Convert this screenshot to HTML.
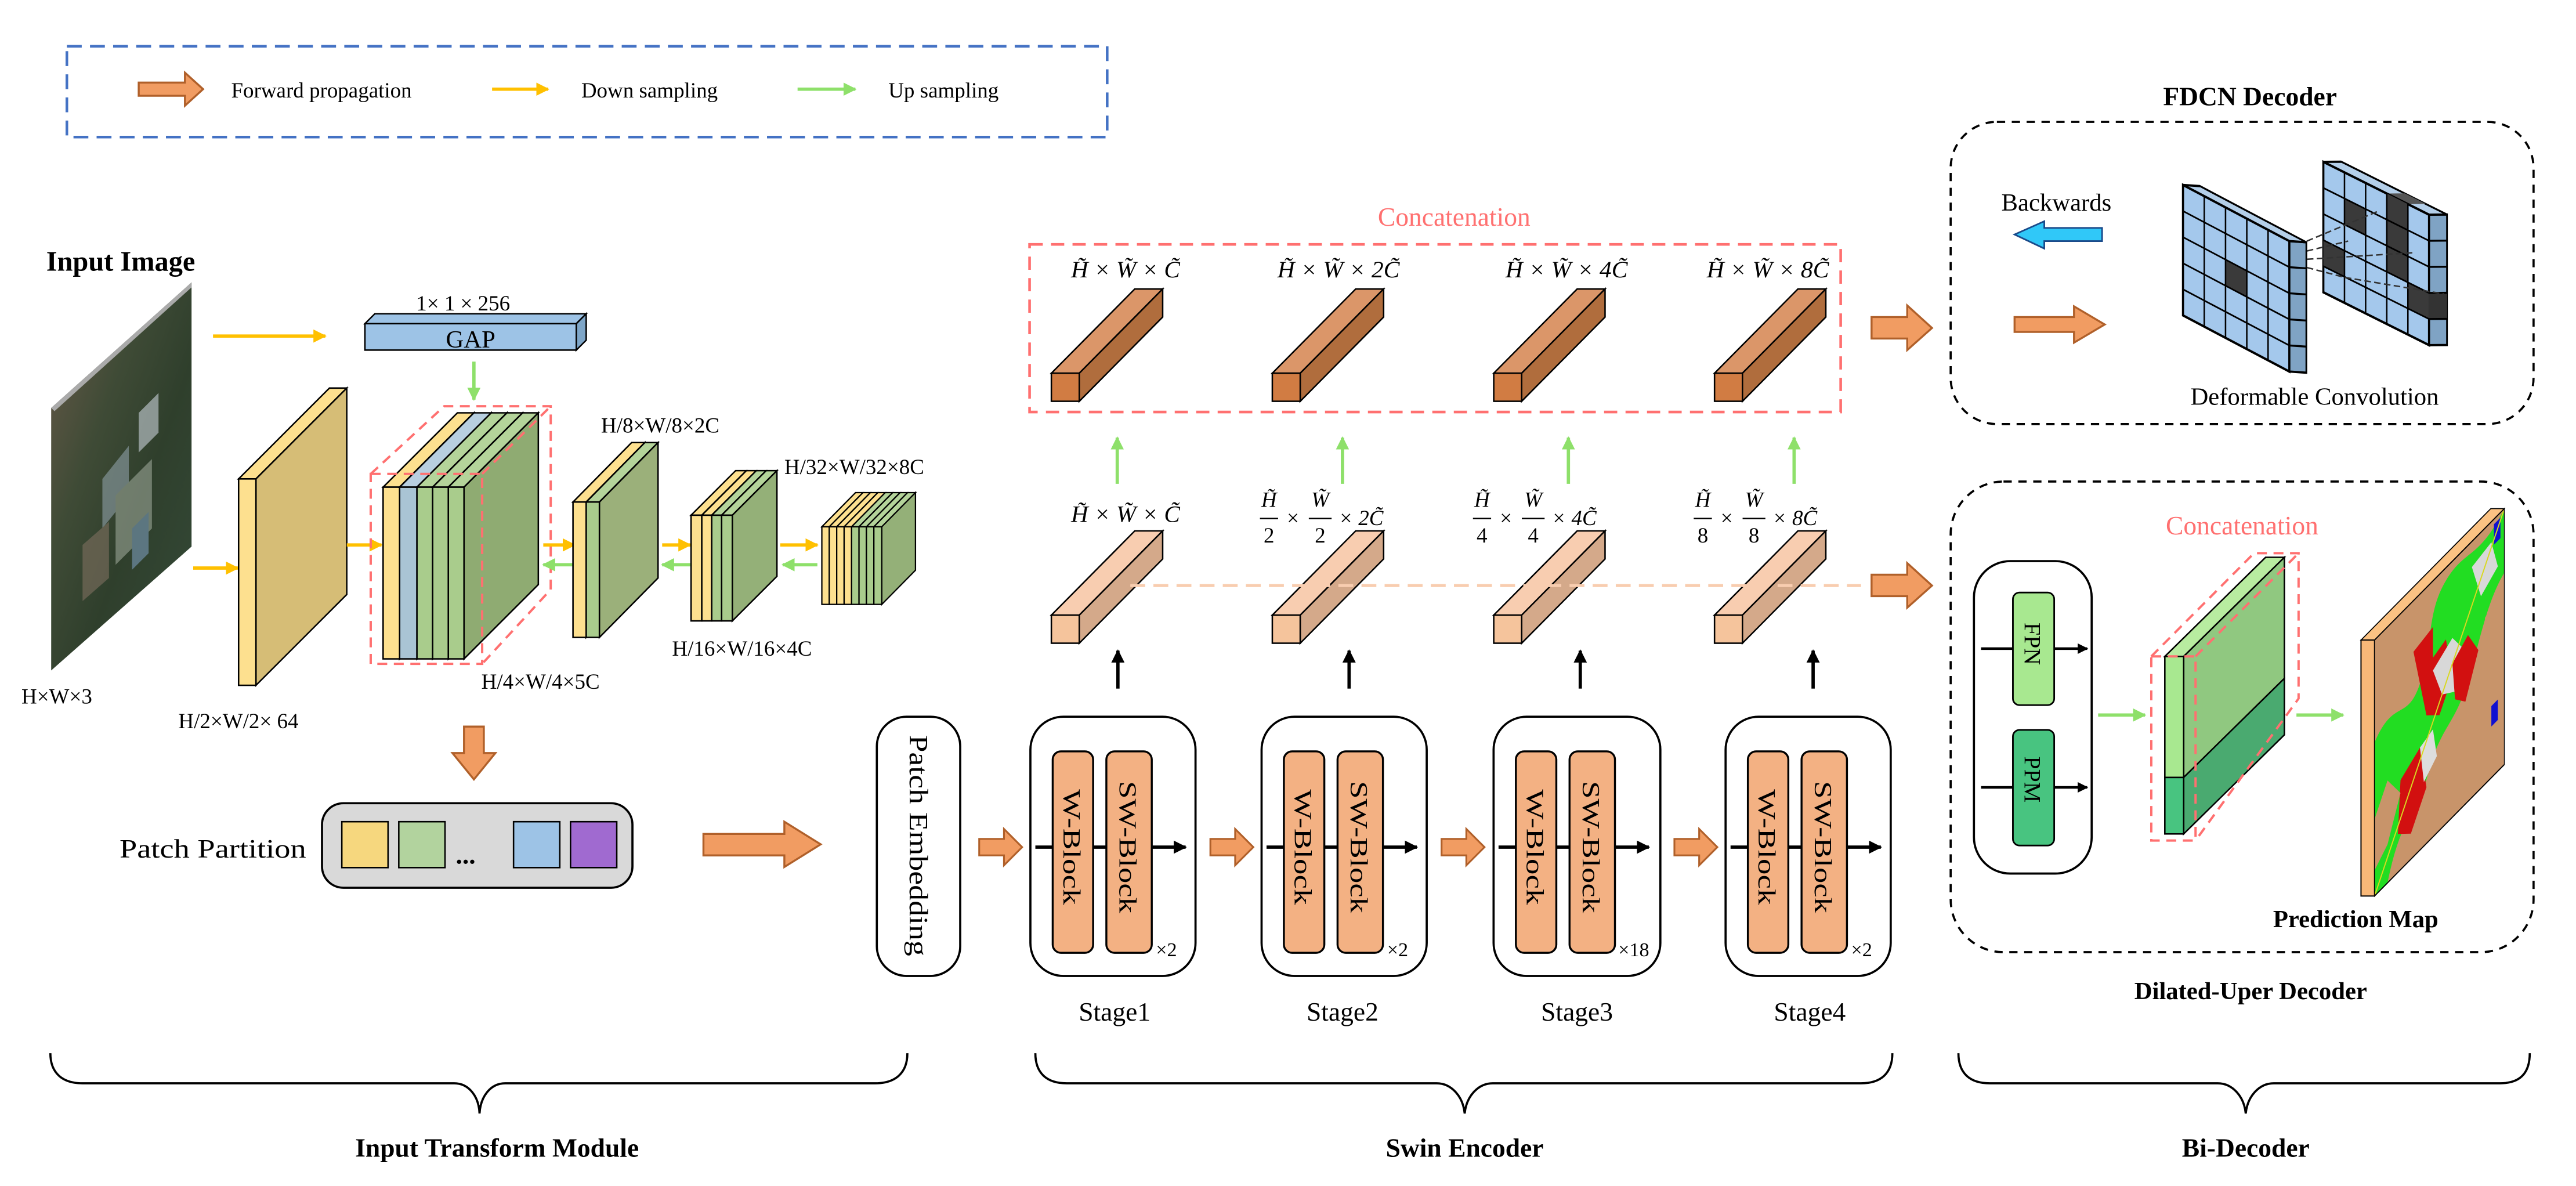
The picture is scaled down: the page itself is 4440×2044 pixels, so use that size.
<!DOCTYPE html>
<html><head><meta charset="utf-8"><style>html,body{margin:0;padding:0;background:#fff}svg{display:block}</style></head><body>
<svg xmlns="http://www.w3.org/2000/svg" width="4440" height="2044" viewBox="0 0 1560 718.2" preserveAspectRatio="none" font-family="'Liberation Serif', serif">
<defs>
<linearGradient id="sat" x1="0" y1="0" x2="1" y2="1">
<stop offset="0" stop-color="#6b5a4a"/><stop offset="0.35" stop-color="#3f4b36"/><stop offset="0.6" stop-color="#2f3f2c"/><stop offset="1" stop-color="#344a38"/>
</linearGradient>
<marker id="ay" viewBox="0 0 10 10" refX="9" refY="5" markerWidth="4" markerHeight="4" orient="auto"><path d="M0,0L10,5L0,10z" fill="#ffc000"/></marker>
<marker id="ag" viewBox="0 0 10 10" refX="9" refY="5" markerWidth="4" markerHeight="4" orient="auto"><path d="M0,0L10,5L0,10z" fill="#8ee06a"/></marker>
<marker id="ab" viewBox="0 0 10 10" refX="9" refY="5" markerWidth="4" markerHeight="4" orient="auto"><path d="M0,0L10,5L0,10z" fill="#000"/></marker>
</defs>

<!-- Legend -->
<rect x="40.5" y="28" width="630" height="55" fill="none" stroke="#4472c4" stroke-width="1.6" stroke-dasharray="9,5"/>
<polygon points="84,50 112,50 112,44 123,54 112,64 112,58 84,58" fill="#f19c62" stroke="#b0602a" stroke-width="1.2"/>
<text x="140" y="59" font-size="13">Forward propagation</text>
<line x1="298" y1="54" x2="332" y2="54" stroke="#ffc000" stroke-width="2" marker-end="url(#ay)"/>
<text x="352" y="59" font-size="13">Down sampling</text>
<line x1="483" y1="54" x2="518" y2="54" stroke="#8ee06a" stroke-width="2" marker-end="url(#ag)"/>
<text x="538" y="59" font-size="13">Up sampling</text>

<!-- Input image -->
<text x="28" y="164" font-size="17" font-weight="bold">Input Image</text>
<polygon points="31,247 116,171 116,331 31,406" fill="url(#sat)"/>
<polygon points="31,247 116,171 116,174 33,249" fill="#aaa"/>
<g opacity="0.6">
<polygon points="62,290 78,270 78,300 62,320" fill="#8fa0a8"/>
<polygon points="70,300 92,278 92,320 70,342" fill="#9aa596"/>
<polygon points="84,250 96,238 96,262 84,274" fill="#c8d0d8"/>
<polygon points="50,330 66,316 66,350 50,364" fill="#7f7060"/>
<polygon points="80,320 90,310 90,335 80,345" fill="#7a9ab8"/>
</g>
<text x="13" y="426" font-size="13">H×W×3</text>

<line x1="129" y1="203.5" x2="197" y2="203.5" stroke="#ffc000" stroke-width="2" marker-end="url(#ay)"/>
<line x1="117" y1="344" x2="144" y2="344" stroke="#ffc000" stroke-width="2" marker-end="url(#ay)"/>

<polygon points="144.5,290 155,290 210,235 199.5,235" fill="#fde08f" stroke="#000" stroke-width="0.9"/>
<polygon points="155,290 210,235 210,360 155,415" fill="#d6bd76" stroke="#000" stroke-width="0.9"/>
<rect x="144.5" y="290" width="10.5" height="125" fill="#fde08f" stroke="#000" stroke-width="0.9"/>
<text x="108" y="441" font-size="13">H/2×W/2× 64</text>

<text x="252" y="188" font-size="13">1× 1 × 256</text>
<polygon points="221,196 349,196 355,190 227,190" fill="#9dc3e6" stroke="#000" stroke-width="0.9"/>
<polygon points="349,196 355,190 355,206 349,212" fill="#7ea6c8" stroke="#000" stroke-width="0.9"/>
<rect x="221" y="196" width="128" height="16" fill="#9dc3e6" stroke="#000" stroke-width="0.9"/>
<text x="285" y="210.5" font-size="15" text-anchor="middle">GAP</text>
<line x1="287" y1="219" x2="287" y2="242" stroke="#8ee06a" stroke-width="2" marker-end="url(#ag)"/>

<line x1="210" y1="330" x2="231" y2="330" stroke="#ffc000" stroke-width="2" marker-end="url(#ay)"/>
<g stroke="#000" stroke-width="0.9">
<polygon points="232,295 242,295 287,250 277,250" fill="#fde08f"/><polygon points="242,295 287,250 287,354 242,399" fill="#d6bd76"/><rect x="232" y="295" width="10" height="104" fill="#fde08f"/>
<polygon points="242,295 252.5,295 297.5,250 287,250" fill="#b8cfe0"/><polygon points="252.5,295 297.5,250 297.5,354 252.5,399" fill="#9fb8c8"/><rect x="242" y="295" width="10.5" height="104" fill="#a9c4d4"/>
<polygon points="252.5,295 262,295 307,250 297.5,250" fill="#b4d49a"/><polygon points="262,295 307,250 307,354 262,399" fill="#9bb880"/><rect x="252.5" y="295" width="9.5" height="104" fill="#a9cc8c"/>
<polygon points="262,295 271.5,295 316.5,250 307,250" fill="#b4d49a"/><polygon points="271.5,295 316.5,250 316.5,354 271.5,399" fill="#96b47c"/><rect x="262" y="295" width="9.5" height="104" fill="#a9cc8c"/>
<polygon points="271.5,295 281,295 326,250 316.5,250" fill="#b4d49a"/><polygon points="281,295 326,250 326,354 281,399" fill="#8fab72"/><rect x="271.5" y="295" width="9.5" height="104" fill="#a9cc8c"/>
</g>
<g fill="none" stroke="#ff7070" stroke-width="1.4" stroke-dasharray="6,4">
<rect x="224.5" y="287" width="67.5" height="115"/>
<polyline points="224.5,287 269,246 333.5,246 333.5,357 292,402"/>
<line x1="292" y1="287" x2="333.5" y2="246"/>
</g>
<text x="291.5" y="417" font-size="13">H/4×W/4×5C</text>

<line x1="329" y1="330" x2="348" y2="330" stroke="#ffc000" stroke-width="2" marker-end="url(#ay)"/>
<line x1="348" y1="342" x2="329" y2="342" stroke="#8ee06a" stroke-width="2" marker-end="url(#ag)"/>

<g stroke="#000" stroke-width="0.9">
<polygon points="347,304 355,304 390.5,268 382.5,268" fill="#fde08f"/><polygon points="355,304 390.5,268 390.5,350 355,386" fill="#d6bd76"/><rect x="347" y="304" width="8" height="82" fill="#fde08f"/>
<polygon points="355,304 363,304 398.5,268 390.5,268" fill="#b4d49a"/><polygon points="363,304 398.5,268 398.5,350 363,386" fill="#9bb07a"/><rect x="355" y="304" width="8" height="82" fill="#a9cc8c"/>
</g>
<text x="364" y="262" font-size="13">H/8×W/8×2C</text>

<line x1="401" y1="330" x2="418" y2="330" stroke="#ffc000" stroke-width="2" marker-end="url(#ay)"/>
<line x1="418" y1="342" x2="401" y2="342" stroke="#8ee06a" stroke-width="2" marker-end="url(#ag)"/>

<g stroke="#000" stroke-width="0.9">
<polygon points="418.5,312 425,312 452,285 445.5,285" fill="#fde08f"/><rect x="418.5" y="312" width="6.5" height="64" fill="#fde08f"/>
<polygon points="425,312 431,312 458,285 452,285" fill="#fde08f"/><rect x="425" y="312" width="6" height="64" fill="#fde08f"/>
<polygon points="431,312 437,312 464,285 458,285" fill="#b4d49a"/><rect x="431" y="312" width="6" height="64" fill="#a9cc8c"/>
<polygon points="437,312 443.5,312 470.5,285 464,285" fill="#b4d49a"/><polygon points="443.5,312 470.5,285 470.5,349 443.5,376" fill="#94b078"/><rect x="437" y="312" width="6.5" height="64" fill="#a9cc8c"/>
</g>
<text x="407" y="397" font-size="13">H/16×W/16×4C</text>

<line x1="472.5" y1="330" x2="495" y2="330" stroke="#ffc000" stroke-width="2" marker-end="url(#ay)"/>
<line x1="495" y1="342" x2="474" y2="342" stroke="#8ee06a" stroke-width="2" marker-end="url(#ag)"/>

<g stroke="#000" stroke-width="0.8">
<polygon points="497.7,319 502.2,319 522.6,298.3 518.1,298.3" fill="#fde08f"/><rect x="497.7" y="319" width="4.5" height="47" fill="#fde08f"/>
<polygon points="502.2,319 506.7,319 527.1,298.3 522.6,298.3" fill="#fde08f"/><rect x="502.2" y="319" width="4.5" height="47" fill="#fde08f"/>
<polygon points="506.7,319 511.2,319 531.6,298.3 527.1,298.3" fill="#fde08f"/><rect x="506.7" y="319" width="4.5" height="47" fill="#fde08f"/>
<polygon points="511.2,319 515.7,319 536.1,298.3 531.6,298.3" fill="#fde08f"/><rect x="511.2" y="319" width="4.5" height="47" fill="#fde08f"/>
<polygon points="515.7,319 520.2,319 540.6,298.3 536.1,298.3" fill="#b4d49a"/><rect x="515.7" y="319" width="4.5" height="47" fill="#a9cc8c"/>
<polygon points="520.2,319 524.7,319 545.1,298.3 540.6,298.3" fill="#b4d49a"/><rect x="520.2" y="319" width="4.5" height="47" fill="#a9cc8c"/>
<polygon points="524.7,319 529.2,319 549.6,298.3 545.1,298.3" fill="#b4d49a"/><rect x="524.7" y="319" width="4.5" height="47" fill="#a9cc8c"/>
<polygon points="529.2,319 534,319 554.4,298.3 549.6,298.3" fill="#b4d49a"/><polygon points="534,319 554.4,298.3 554.4,345.3 534,366" fill="#94b078"/><rect x="529.2" y="319" width="4.8" height="47" fill="#a9cc8c"/>
</g>
<text x="475" y="287" font-size="13">H/32×W/32×8C</text>

<polygon points="281,440 293,440 293,456 300,456 287,472 274,456 281,456" fill="#f19c62" stroke="#b0602a" stroke-width="1.2"/>

<text x="72.4" y="519.4" font-size="16" textLength="113" lengthAdjust="spacingAndGlyphs">Patch Partition</text>
<rect x="195" y="486.4" width="188" height="51.2" rx="13" fill="#d9d9d9" stroke="#000" stroke-width="1.3"/>
<rect x="207" y="497.6" width="28" height="27.8" fill="#f6d77e" stroke="#000" stroke-width="0.9"/>
<rect x="241.5" y="497.6" width="28" height="27.8" fill="#b2d39e" stroke="#000" stroke-width="0.9"/>
<text x="276" y="523" font-size="16" font-weight="bold">...</text>
<rect x="311" y="497.6" width="28" height="27.8" fill="#9dc3e6" stroke="#000" stroke-width="0.9"/>
<rect x="345.5" y="497.6" width="28" height="27.8" fill="#a06ad0" stroke="#000" stroke-width="0.9"/>
<polygon points="426,505 475,505 475,497.6 497,511.3 475,525 475,518 426,518" fill="#f19c62" stroke="#b0602a" stroke-width="1.2"/>

<rect x="531" y="434" width="50.5" height="157" rx="18" fill="#fff" stroke="#000" stroke-width="1.3"/>
<text transform="translate(551,445) rotate(90)" font-size="16" textLength="134" lengthAdjust="spacingAndGlyphs">Patch Embedding</text>

<!-- Stages -->
<g>
<polygon points="593,508 608,508 608,502 619,513 608,524 608,518 593,518" fill="#f19c62" stroke="#b0602a" stroke-width="1.1"/>
<rect x="624" y="434" width="100" height="157" rx="20" fill="#fff" stroke="#000" stroke-width="1.3"/>
<line x1="627" y1="513" x2="718" y2="513" stroke="#000" stroke-width="2" marker-end="url(#ab)"/>
<rect x="637.5" y="455" width="24.5" height="122" rx="5" fill="#f3b183" stroke="#000" stroke-width="1.2"/>
<rect x="670" y="455" width="27.5" height="122" rx="5" fill="#f3b183" stroke="#000" stroke-width="1.2"/>
<text transform="translate(644,478) rotate(90)" font-size="15" textLength="70" lengthAdjust="spacingAndGlyphs">W-Block</text>
<text transform="translate(678,473) rotate(90)" font-size="15" textLength="80" lengthAdjust="spacingAndGlyphs">SW-Block</text>
<text x="700" y="579" font-size="12">×2</text>
<text x="675" y="618" font-size="16" text-anchor="middle">Stage1</text>
<line x1="677" y1="417" x2="677" y2="394" stroke="#000" stroke-width="2" marker-end="url(#ab)"/>
</g>
<g>
<polygon points="733,508 748,508 748,502 759,513 748,524 748,518 733,518" fill="#f19c62" stroke="#b0602a" stroke-width="1.1"/>
<rect x="764" y="434" width="100" height="157" rx="20" fill="#fff" stroke="#000" stroke-width="1.3"/>
<line x1="767" y1="513" x2="858" y2="513" stroke="#000" stroke-width="2" marker-end="url(#ab)"/>
<rect x="777.5" y="455" width="24.5" height="122" rx="5" fill="#f3b183" stroke="#000" stroke-width="1.2"/>
<rect x="810" y="455" width="27.5" height="122" rx="5" fill="#f3b183" stroke="#000" stroke-width="1.2"/>
<text transform="translate(784,478) rotate(90)" font-size="15" textLength="70" lengthAdjust="spacingAndGlyphs">W-Block</text>
<text transform="translate(818,473) rotate(90)" font-size="15" textLength="80" lengthAdjust="spacingAndGlyphs">SW-Block</text>
<text x="840" y="579" font-size="12">×2</text>
<text x="813" y="618" font-size="16" text-anchor="middle">Stage2</text>
<line x1="817" y1="417" x2="817" y2="394" stroke="#000" stroke-width="2" marker-end="url(#ab)"/>
</g>
<g>
<polygon points="873,508 888,508 888,502 899,513 888,524 888,518 873,518" fill="#f19c62" stroke="#b0602a" stroke-width="1.1"/>
<rect x="904.5" y="434" width="101" height="157" rx="20" fill="#fff" stroke="#000" stroke-width="1.3"/>
<line x1="907.5" y1="513" x2="998.5" y2="513" stroke="#000" stroke-width="2" marker-end="url(#ab)"/>
<rect x="918" y="455" width="24.5" height="122" rx="5" fill="#f3b183" stroke="#000" stroke-width="1.2"/>
<rect x="950.5" y="455" width="27.5" height="122" rx="5" fill="#f3b183" stroke="#000" stroke-width="1.2"/>
<text transform="translate(924.5,478) rotate(90)" font-size="15" textLength="70" lengthAdjust="spacingAndGlyphs">W-Block</text>
<text transform="translate(958.5,473) rotate(90)" font-size="15" textLength="80" lengthAdjust="spacingAndGlyphs">SW-Block</text>
<text x="980" y="579" font-size="12">×18</text>
<text x="955" y="618" font-size="16" text-anchor="middle">Stage3</text>
<line x1="957" y1="417" x2="957" y2="394" stroke="#000" stroke-width="2" marker-end="url(#ab)"/>
</g>
<g>
<polygon points="1014,508 1029,508 1029,502 1040,513 1029,524 1029,518 1014,518" fill="#f19c62" stroke="#b0602a" stroke-width="1.1"/>
<rect x="1045" y="434" width="100" height="157" rx="20" fill="#fff" stroke="#000" stroke-width="1.3"/>
<line x1="1048" y1="513" x2="1139" y2="513" stroke="#000" stroke-width="2" marker-end="url(#ab)"/>
<rect x="1058.5" y="455" width="24.5" height="122" rx="5" fill="#f3b183" stroke="#000" stroke-width="1.2"/>
<rect x="1091" y="455" width="27.5" height="122" rx="5" fill="#f3b183" stroke="#000" stroke-width="1.2"/>
<text transform="translate(1065,478) rotate(90)" font-size="15" textLength="70" lengthAdjust="spacingAndGlyphs">W-Block</text>
<text transform="translate(1099,473) rotate(90)" font-size="15" textLength="80" lengthAdjust="spacingAndGlyphs">SW-Block</text>
<text x="1121" y="579" font-size="12">×2</text>
<text x="1096" y="618" font-size="16" text-anchor="middle">Stage4</text>
<line x1="1098" y1="417" x2="1098" y2="394" stroke="#000" stroke-width="2" marker-end="url(#ab)"/>
</g>

<text x="880.6" y="136.7" font-size="16" fill="#ff7070" text-anchor="middle">Concatenation</text>
<rect x="623.5" y="148" width="491.2" height="101.5" fill="none" stroke="#ff7070" stroke-width="1.6" stroke-dasharray="8,5"/>
<g font-size="14" font-style="italic">
<text x="681.6" y="168" text-anchor="middle" textLength="66" lengthAdjust="spacingAndGlyphs">H̃ × W̃ × C̃</text>
<text x="810.6" y="168" text-anchor="middle" textLength="74" lengthAdjust="spacingAndGlyphs">H̃ × W̃ × 2C̃</text>
<text x="948.7" y="168" text-anchor="middle" textLength="74" lengthAdjust="spacingAndGlyphs">H̃ × W̃ × 4C̃</text>
<text x="1070.6" y="168" text-anchor="middle" textLength="74" lengthAdjust="spacingAndGlyphs">H̃ × W̃ × 8C̃</text>
</g>
<g stroke="#000" stroke-width="0.9">
<polygon points="636.7,226 653.6,226 704.1,175 687.2,175" fill="#db9669"/><polygon points="653.6,226 704.1,175 704.1,192 653.6,243" fill="#b06d3d"/><rect x="636.7" y="226" width="16.9" height="17" fill="#d17c43"/>
<polygon points="770.5,226 787.4,226 837.9,175 821,175" fill="#db9669"/><polygon points="787.4,226 837.9,175 837.9,192 787.4,243" fill="#b06d3d"/><rect x="770.5" y="226" width="16.9" height="17" fill="#d17c43"/>
<polygon points="904.6,226 921.5,226 972,175 955.1,175" fill="#db9669"/><polygon points="921.5,226 972,175 972,192 921.5,243" fill="#b06d3d"/><rect x="904.6" y="226" width="16.9" height="17" fill="#d17c43"/>
<polygon points="1038.3,226 1055.2,226 1105.7,175 1088.8,175" fill="#db9669"/><polygon points="1055.2,226 1105.7,175 1105.7,192 1055.2,243" fill="#b06d3d"/><rect x="1038.3" y="226" width="16.9" height="17" fill="#d17c43"/>
</g>
<g stroke="#8ee06a" stroke-width="2">
<line x1="676.6" y1="293" x2="676.6" y2="265" marker-end="url(#ag)"/>
<line x1="813" y1="293" x2="813" y2="265" marker-end="url(#ag)"/>
<line x1="949.8" y1="293" x2="949.8" y2="265" marker-end="url(#ag)"/>
<line x1="1086.5" y1="293" x2="1086.5" y2="265" marker-end="url(#ag)"/>
</g>

<g font-size="14" font-style="italic">
<text x="681.6" y="316" text-anchor="middle" textLength="66" lengthAdjust="spacingAndGlyphs">H̃ × W̃ × C̃</text>
</g>
<g font-size="13" font-style="italic" transform="translate(763,0)">
<text x="5.5" y="307" text-anchor="middle">H̃</text><line x1="0" y1="314" x2="11" y2="314" stroke="#000" stroke-width="0.9"/><text x="5.5" y="328.6" text-anchor="middle" font-style="normal">2</text>
<text x="20" y="318" text-anchor="middle" font-style="normal">×</text>
<text x="36.5" y="307" text-anchor="middle">W̃</text><line x1="29.6" y1="314" x2="43.4" y2="314" stroke="#000" stroke-width="0.9"/><text x="36.5" y="328.6" text-anchor="middle" font-style="normal">2</text>
<text x="47.6" y="318">× 2C̃</text>
</g>
<g font-size="13" font-style="italic" transform="translate(892,0)">
<text x="5.5" y="307" text-anchor="middle">H̃</text><line x1="0" y1="314" x2="11" y2="314" stroke="#000" stroke-width="0.9"/><text x="5.5" y="328.6" text-anchor="middle" font-style="normal">4</text>
<text x="20" y="318" text-anchor="middle" font-style="normal">×</text>
<text x="36.5" y="307" text-anchor="middle">W̃</text><line x1="29.6" y1="314" x2="43.4" y2="314" stroke="#000" stroke-width="0.9"/><text x="36.5" y="328.6" text-anchor="middle" font-style="normal">4</text>
<text x="47.6" y="318">× 4C̃</text>
</g>
<g font-size="13" font-style="italic" transform="translate(1025.7,0)">
<text x="5.5" y="307" text-anchor="middle">H̃</text><line x1="0" y1="314" x2="11" y2="314" stroke="#000" stroke-width="0.9"/><text x="5.5" y="328.6" text-anchor="middle" font-style="normal">8</text>
<text x="20" y="318" text-anchor="middle" font-style="normal">×</text>
<text x="36.5" y="307" text-anchor="middle">W̃</text><line x1="29.6" y1="314" x2="43.4" y2="314" stroke="#000" stroke-width="0.9"/><text x="36.5" y="328.6" text-anchor="middle" font-style="normal">8</text>
<text x="47.6" y="318">× 8C̃</text>
</g>

<g stroke="#000" stroke-width="0.9">
<polygon points="636.7,372.5 653.6,372.5 704.1,321.5 687.2,321.5" fill="#f8cdb0"/><polygon points="653.6,372.5 704.1,321.5 704.1,338.5 653.6,389.5" fill="#d4a98a"/><rect x="636.7" y="372.5" width="16.9" height="17" fill="#f5c49c"/>
<polygon points="770.5,372.5 787.4,372.5 837.9,321.5 821,321.5" fill="#f8cdb0"/><polygon points="787.4,372.5 837.9,321.5 837.9,338.5 787.4,389.5" fill="#d4a98a"/><rect x="770.5" y="372.5" width="16.9" height="17" fill="#f5c49c"/>
<polygon points="904.6,372.5 921.5,372.5 972,321.5 955.1,321.5" fill="#f8cdb0"/><polygon points="921.5,372.5 972,321.5 972,338.5 921.5,389.5" fill="#d4a98a"/><rect x="904.6" y="372.5" width="16.9" height="17" fill="#f5c49c"/>
<polygon points="1038.3,372.5 1055.2,372.5 1105.7,321.5 1088.8,321.5" fill="#f8cdb0"/><polygon points="1055.2,372.5 1105.7,321.5 1105.7,338.5 1055.2,389.5" fill="#d4a98a"/><rect x="1038.3" y="372.5" width="16.9" height="17" fill="#f5c49c"/>
</g>
<line x1="684.5" y1="354.6" x2="1127" y2="354.6" stroke="#f8cdb0" stroke-width="1.8" stroke-dasharray="9,5"/>

<polygon points="1133.4,192 1155,192 1155,185 1170,198.6 1155,212 1155,205 1133.4,205" fill="#f19c62" stroke="#b0602a" stroke-width="1.2"/>
<polygon points="1133.4,348 1155,348 1155,341 1170,354.6 1155,368 1155,361 1133.4,361" fill="#f19c62" stroke="#b0602a" stroke-width="1.2"/>

<text x="1362.6" y="63.8" font-size="16" font-weight="bold" text-anchor="middle">FDCN Decoder</text>
<rect x="1181.3" y="73.8" width="353" height="183" rx="28" fill="none" stroke="#000" stroke-width="1.3" stroke-dasharray="5,4"/>
<text x="1212" y="127.6" font-size="15">Backwards</text>
<polygon points="1273,138 1238,138 1238,134 1220,142 1238,150.5 1238,146 1273,146" fill="#30c8f8" stroke="#1a4a8a" stroke-width="1"/>
<polygon points="1220,192 1256,192 1256,185.5 1274.6,196.5 1256,207.5 1256,201 1220,201" fill="#f19c62" stroke="#b0602a" stroke-width="1.2"/>

<g transform="matrix(12.88,6.8,0,15.8,1322,112)">
<polygon points="5,0 5,5 5.8,4.7 5.8,-0.3" fill="#7fa3c4" stroke="#000" stroke-width="0.08"/>
<polygon points="0,0 5,0 5.8,-0.3 0.8,-0.3" fill="#b4cfe9" stroke="#000" stroke-width="0.08"/>
<rect x="0" y="0" width="5" height="5" fill="#a4c8ec" stroke="#000" stroke-width="0.1"/>
<rect x="2" y="2" width="1" height="1" fill="#3a3a3a"/>
<g stroke="#000" stroke-width="0.07" fill="none">
<path d="M1,0V5M2,0V5M3,0V5M4,0V5M0,1H5M0,2H5M0,3H5M0,4H5"/>
<path d="M5,1L5.8,0.7M5,2L5.8,1.7M5,3L5.8,2.7M5,4L5.8,3.7"/>
</g>
</g>
<g transform="matrix(12.8,6.4,0,15.8,1407,98)">
<polygon points="5,0 5,5 5.85,4.65 5.85,-0.35" fill="#7fa3c4" stroke="#000" stroke-width="0.08"/>
<polygon points="0,0 5,0 5.85,-0.35 0.85,-0.35" fill="#b4cfe9" stroke="#000" stroke-width="0.08"/>
<polygon points="3,0 4,0 4.85,-0.35 3.85,-0.35" fill="#555"/>
<rect x="0" y="0" width="5" height="5" fill="#a4c8ec" stroke="#000" stroke-width="0.1"/>
<rect x="1" y="1" width="1" height="1" fill="#3a3a3a"/>
<rect x="3" y="0" width="1" height="2" fill="#3a3a3a"/>
<rect x="0" y="3" width="1" height="1" fill="#3a3a3a"/>
<rect x="3" y="2" width="1" height="1" fill="#3a3a3a"/>
<rect x="4" y="3" width="1" height="1" fill="#3a3a3a"/>
<polygon points="5,3 5,4 5.85,3.65 5.85,2.65" fill="#333"/>
<g stroke="#000" stroke-width="0.07" fill="none">
<path d="M1,0V5M2,0V5M3,0V5M4,0V5M0,1H5M0,2H5M0,3H5M0,4H5"/>
<path d="M5,1L5.85,0.65M5,2L5.85,1.65M5,3L5.85,2.65M5,4L5.85,3.65"/>
</g>
</g>
<g stroke="#333" stroke-width="0.9" stroke-dasharray="4,2" fill="none">
<line x1="1397" y1="146" x2="1440" y2="128"/>
<line x1="1397" y1="152" x2="1422" y2="146"/>
<line x1="1397" y1="157" x2="1462" y2="153"/>
<line x1="1397" y1="162" x2="1420" y2="168"/>
<line x1="1420" y1="168" x2="1480" y2="178"/>
</g>
<text x="1401.7" y="245" font-size="15" text-anchor="middle">Deformable Convolution</text>

<rect x="1181.3" y="291.6" width="353" height="285" rx="32" fill="none" stroke="#000" stroke-width="1.3" stroke-dasharray="5,4"/>
<text x="1357.8" y="323.7" font-size="16" fill="#ff7070" text-anchor="middle">Concatenation</text>
<rect x="1195.4" y="339.8" width="71.3" height="189.2" rx="22" fill="#fff" stroke="#000" stroke-width="1.3"/>
<line x1="1199.7" y1="392.8" x2="1264" y2="392.8" stroke="#000" stroke-width="1.6" marker-end="url(#ab)"/>
<line x1="1199.7" y1="476.8" x2="1264" y2="476.8" stroke="#000" stroke-width="1.6" marker-end="url(#ab)"/>
<rect x="1219" y="358.8" width="25" height="68.2" rx="4" fill="#a8e890" stroke="#000" stroke-width="1"/>
<rect x="1219" y="442" width="25" height="70" rx="4" fill="#48c480" stroke="#000" stroke-width="1"/>
<text transform="translate(1226,377) rotate(90)" font-size="14">FPN</text>
<text transform="translate(1226,458) rotate(90)" font-size="14">PPM</text>
<line x1="1270.6" y1="433" x2="1299" y2="433" stroke="#8ee06a" stroke-width="2" marker-end="url(#ag)"/>

<g stroke="#000" stroke-width="0.9">
<polygon points="1311,397.5 1322.4,397.5 1383.4,337.5 1372,337.5" fill="#b8eca0"/>
<polygon points="1322.4,397.5 1383.4,337.5 1383.4,410.8 1322.4,470.8" fill="#90c880"/>
<polygon points="1322.4,470.8 1383.4,410.8 1383.4,445 1322.4,505" fill="#4aaa70"/>
<rect x="1311" y="397.5" width="11.4" height="73.3" fill="#a8e890"/>
<rect x="1311" y="470.8" width="11.4" height="34.2" fill="#48c480"/>
</g>
<g fill="none" stroke="#ff7070" stroke-width="1.4" stroke-dasharray="6,4">
<rect x="1302.8" y="397.5" width="26.8" height="111.5"/>
<polyline points="1302.8,397.5 1365,335 1392,335 1392,423 1329.6,509"/>
<line x1="1329.6" y1="397.5" x2="1392" y2="335"/>
</g>
<line x1="1390.7" y1="433" x2="1419" y2="433" stroke="#8ee06a" stroke-width="2" marker-end="url(#ag)"/>

<polygon points="1429.8,387.6 1438,387.6 1516.6,308 1508.4,308" fill="#fbc283" stroke="#000" stroke-width="0.6"/>
<rect x="1429.8" y="387.6" width="8.2" height="155" fill="#f8b878" stroke="#000" stroke-width="0.7"/>
<g transform="matrix(0.786,-0.796,0,1.55,1438,387.6)">
<rect x="0" y="0" width="100" height="100" fill="#c8946a"/>
<path d="M0,40 C15,30 25,45 35,35 C45,25 40,10 55,5 C70,0 80,10 100,0 L100,25 C85,30 80,45 70,55 C60,65 50,60 40,75 C30,85 20,80 10,100 L0,100Z" fill="#22dd22"/>
<path d="M30,20 L45,18 L45,30 L55,28 L60,45 L50,55 L40,50 L35,35Z" fill="#d21010"/>
<path d="M45,35 L60,30 L70,40 L62,52 L52,48Z" fill="#d8d8d8"/>
<path d="M60,40 L72,35 L80,45 L70,60 L62,55Z" fill="#d21010"/>
<path d="M20,65 L35,60 L40,78 L28,90 L18,85Z" fill="#d21010"/>
<path d="M35,60 L45,58 L48,70 L38,75Z" fill="#dddddd"/>
<path d="M75,10 L90,8 L95,20 L82,25Z" fill="#d8d8d8"/>
<path d="M85,35 L100,30 L100,50 L88,52Z" fill="#c8946a"/>
<path d="M0,70 L10,60 L20,70 L10,85 L0,90Z" fill="#c8946a"/>
<path d="M5,0 L25,0 L30,12 L10,18 L0,15 L0,0Z" fill="#c8946a"/>
<rect x="92" y="2" width="5" height="8" fill="#1010d0"/>
<rect x="90" y="72" width="5" height="8" fill="#1010d0"/>
<line x1="0" y1="100" x2="100" y2="0" stroke="#d8d820" stroke-width="1"/>
<rect x="0" y="0" width="100" height="100" fill="none" stroke="#000" stroke-width="0.6"/>
</g>
<text x="1426.6" y="561.5" font-size="15" font-weight="bold" text-anchor="middle">Prediction Map</text>
<text x="1363" y="605" font-size="15" font-weight="bold" text-anchor="middle">Dilated-Uper Decoder</text>

<g fill="none" stroke="#000" stroke-width="1.3">
<path d="M30.5,637.8 C30.5,650 38,656 50,656 L275,656 C284,656 290,664 290.4,674.3 C291,664 297,656 306,656 L530,656 C542,656 549.5,650 549.5,637.8"/>
<path d="M627,637.8 C627,650 634,656 646,656 L870,656 C879,656 886,664 887,674.3 C888,664 895,656 904,656 L1127,656 C1139,656 1146,650 1146,637.8"/>
<path d="M1186,637.8 C1186,650 1193,656 1205,656 L1343,656 C1352,656 1359,664 1360,674.3 C1361,664 1368,656 1377,656 L1514,656 C1526,656 1532,650 1532,637.8"/>
</g>
<text x="301" y="700.5" font-size="16" font-weight="bold" text-anchor="middle">Input Transform Module</text>
<text x="887" y="700.5" font-size="16" font-weight="bold" text-anchor="middle">Swin Encoder</text>
<text x="1360" y="700.5" font-size="16" font-weight="bold" text-anchor="middle">Bi-Decoder</text>
</svg>
</body></html>
